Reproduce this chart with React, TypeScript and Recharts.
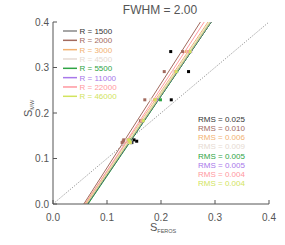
import React from 'react';
import {
  ComposedChart,
  ReferenceLine,
  Scatter,
  XAxis,
  YAxis,
} from 'recharts';

const RESOLUTIONS = ['1500', '2000', '3000', '4500', '5500', '11000', '22000', '46000'];
const COLORS = ['#000000', '#a26a5e', '#f2b272', '#e6dad2', '#2ea444', '#a878ea', '#ff98a0', '#d2e45e'];
const RMS = ['0.025', '0.010', '0.006', '0.009', '0.005', '0.005', '0.004', '0.004'];

// S_MW reference values (shared by every resolution)
const S_MW = [0.335, 0.291, 0.229, 0.183, 0.141, 0.138, 0.135];

// S_FEROS values per resolution
const S_FEROS = [
  [0.218, 0.251, 0.219, 0.164, 0.15, 0.155, 0.146],
  [0.24, 0.206, 0.17, 0.162, 0.131, 0.13, 0.128],
  [0.247, 0.225, 0.188, 0.165, 0.14, 0.139, 0.141],
  [0.25, 0.224, 0.181, 0.165, 0.137, 0.14, 0.142],
  [0.253, 0.229, 0.199, 0.166, 0.141, 0.142, 0.144],
  [0.255, 0.228, 0.192, 0.166, 0.14, 0.142, 0.144],
  [0.251, 0.227, 0.19, 0.165, 0.139, 0.141, 0.143],
  [0.254, 0.228, 0.19, 0.167, 0.14, 0.142, 0.143],
];

// fitted lines: S_FEROS where S_MW = 0 and where S_MW = 0.4
const FIT_LOW = [0.064, 0.057, 0.059, 0.06, 0.065, 0.063, 0.06, 0.062];
const FIT_HIGH = [0.293, 0.273, 0.287, 0.289, 0.293, 0.292, 0.28, 0.291];

const TICKS = [0, 0.1, 0.2, 0.3, 0.4];
const FONT = '"Liberation Sans", Arial, sans-serif';
const AXIS = '#555';
const TEXT = '#555';

const BottomTick = (p: any) => (
  <g>
    <line x1={p.x} y1={p.y} x2={p.x} y2={p.y - 4} stroke={AXIS} />
    <text x={p.x} y={p.y + 16.5} textAnchor="middle" fontSize={10} fill={TEXT} fontFamily={FONT}>
      {p.payload.value.toFixed(1)}
    </text>
  </g>
);

const LeftTick = (p: any) => (
  <g>
    <line x1={p.x} y1={p.y} x2={p.x + 4} y2={p.y} stroke={AXIS} />
    <text x={p.x - 4} y={p.y + 3.6} textAnchor="end" fontSize={10} fill={TEXT} fontFamily={FONT}>
      {p.payload.value.toFixed(1)}
    </text>
  </g>
);

const TopTick = (p: any) => <line x1={p.x} y1={p.y} x2={p.x} y2={p.y + 4} stroke={AXIS} />;
const RightTick = (p: any) => <line x1={p.x} y1={p.y} x2={p.x - 4} y2={p.y} stroke={AXIS} />;

const Dot = (p: any) => <rect x={p.cx - 1.5} y={p.cy - 1.5} width={3} height={3} fill={p.fill} />;

export default function App() {
  return (
    <div style={{ position: 'absolute', left: 0, top: 0, width: 285, height: 245, background: '#fff' }}>
      <ComposedChart width={285} height={245} margin={{ top: 22, right: 16, left: 0, bottom: 0 }}>
        <XAxis
          xAxisId={0}
          type="number"
          dataKey="x"
          domain={[0, 0.4]}
          ticks={TICKS}
          allowDataOverflow
          height={41}
          tickSize={0}
          tickMargin={0}
          stroke={AXIS}
          tick={BottomTick}
        />
        <XAxis
          xAxisId="top"
          orientation="top"
          type="number"
          domain={[0, 0.4]}
          ticks={TICKS}
          height={0}
          tickSize={0}
          tickMargin={0}
          stroke={AXIS}
          tick={TopTick}
        />
        <YAxis
          yAxisId={0}
          type="number"
          dataKey="y"
          domain={[0, 0.4]}
          ticks={TICKS}
          allowDataOverflow
          width={53}
          tickSize={0}
          tickMargin={0}
          stroke={AXIS}
          tick={LeftTick}
        />
        <YAxis
          yAxisId="right"
          orientation="right"
          type="number"
          domain={[0, 0.4]}
          ticks={TICKS}
          width={0}
          tickSize={0}
          tickMargin={0}
          stroke={AXIS}
          tick={RightTick}
        />
        <ReferenceLine
          segment={[{ x: 0, y: 0 }, { x: 0.4, y: 0.4 }]}
          stroke="#888"
          strokeDasharray="1 1.5"
          ifOverflow="hidden"
        />
        {RESOLUTIONS.map((r, i) => (
          <ReferenceLine
            key={'fit' + r}
            segment={[{ x: FIT_LOW[i], y: 0 }, { x: FIT_HIGH[i], y: 0.4 }]}
            stroke={COLORS[i]}
            strokeWidth={1}
            ifOverflow="hidden"
          />
        ))}
        {RESOLUTIONS.map((r, i) => (
          <Scatter
            key={'pts' + r}
            data={S_FEROS[i].map((x, j) => ({ x, y: S_MW[j] }))}
            fill={COLORS[i]}
            shape={Dot}
            isAnimationActive={false}
          />
        ))}
      </ComposedChart>
      <svg width={285} height={245} style={{ position: 'absolute', left: 0, top: 0, pointerEvents: 'none' }} fontFamily={FONT}>
        <text x={160} y={14} textAnchor="middle" fontSize={12} fill={TEXT}>
          FWHM = 2.00
        </text>
        {RESOLUTIONS.map((r, i) => (
          <g key={'leg' + r}>
            <line x1={63} x2={77} y1={31 + i * 9.33} y2={31 + i * 9.33} stroke={i === 0 ? '#888' : COLORS[i]} strokeWidth={1.5} />
            <text x={79.5} y={31 + i * 9.33 + 3} fontSize={8} fill={i === 0 ? '#333' : COLORS[i]}>
              R = {r}
            </text>
          </g>
        ))}
        {RMS.map((v, i) => (
          <text key={'rms' + i} x={198} y={119.3 + i * 9.05 + 3} fontSize={8} fill={i === 0 ? '#333' : COLORS[i]}>
            RMS = {v}
          </text>
        ))}
        <text x={150} y={231} fontSize={11} fill={TEXT}>
          S<tspan fontSize={5.5} dy={2}>FEROS</tspan>
        </text>
        <text transform="translate(31.5,117) rotate(-90)" fontSize={11} fill={TEXT}>
          S<tspan fontSize={5.5} dy={2}>MW</tspan>
        </text>
      </svg>
    </div>
  );
}
